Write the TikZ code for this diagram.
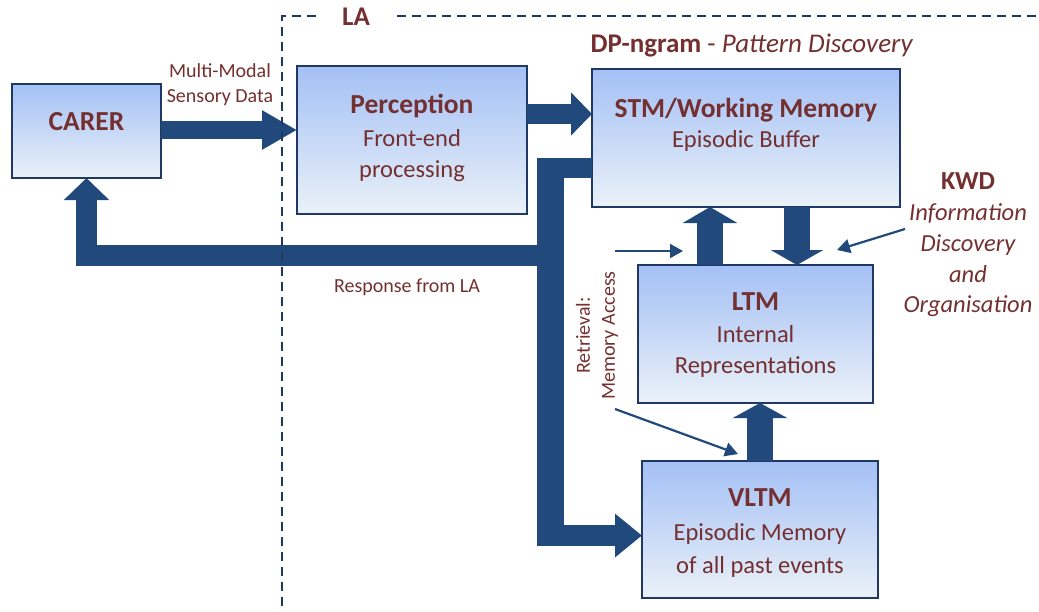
\documentclass[tikz,border=0pt]{standalone}
\usepackage{fontspec}
\setmainfont{Carlito}
\usetikzlibrary{arrows.meta,calc}

\definecolor{flow}{RGB}{33,73,124}
\definecolor{edge}{RGB}{31,56,100}
\definecolor{ink}{RGB}{116,48,48}
\definecolor{shadetop}{RGB}{164,192,245}
\definecolor{shadebot}{RGB}{234,241,248}

\newcommand{\hdfont}{\fontsize{27.5}{32}\selectfont\bfseries}
\newcommand{\bdfont}{\fontsize{24.5}{32}\selectfont}
\newcommand{\lbfont}{\fontsize{20}{25}\selectfont}

\begin{document}
\begin{tikzpicture}[x=1pt,y=-1pt,
  box/.style={draw=edge, line width=2.5pt, top color=shadetop,
    bottom color=shadebot, inner sep=0pt, outer sep=0pt},
  head/.style={text=ink, font=\hdfont, anchor=base, inner sep=0pt},
  body/.style={text=ink, font=\bdfont, anchor=base, inner sep=0pt},
  note/.style={text=ink, font=\lbfont, inner sep=0pt},
  fat/.style={draw=flow, line width=#1},
  thin/.style={draw=flow, line width=2.2pt,
    -{Triangle[length=13pt,width=14pt]}},
  frame/.style={draw=edge, line width=2pt, dash pattern=on 9pt off 6pt}]

\useasboundingbox (0,0) rectangle (1039,611);

% ---- blocks ----
\node[box, minimum width=149pt, minimum height=94pt]  (carer) at (86.5,131) {};
\node[box, minimum width=230pt, minimum height=148pt] (perc)  at (412,140) {};
\node[box, minimum width=308pt, minimum height=138pt] (stm)   at (746,138) {};
\node[box, minimum width=235pt, minimum height=138pt] (ltm)   at (755.5,334) {};
\node[box, minimum width=236pt, minimum height=137pt] (vltm)  at (760,529.5) {};

% ---- block texts ----
\node[head] (carer-h) at (86.5,130) {CARER};
\node[head] (perc-h)  at (412,113) {Perception};
\node[body] (perc-a)  at (412,146) {Front-end};
\node[body] (perc-b)  at (412,177) {processing};
\node[head] (stm-h)   at (746,117) {STM/Working Memory};
\node[body] (stm-a)   at (746,147) {Episodic Buffer};
\node[head] (ltm-h)   at (755.5,310) {LTM};
\node[body] (ltm-a)   at (755.5,342) {Internal};
\node[body] (ltm-b)   at (755.5,373) {Representations};
\node[head] (vltm-h)  at (760,506) {VLTM};
\node[body] (vltm-a)  at (760,540) {Episodic Memory};
\node[body] (vltm-b)  at (760,573) {of all past events};

% ---- free labels ----
\node[note, align=center] (sense) at (220,85) {Multi-Modal\\Sensory Data};
\node[note, anchor=base] (resp) at (407,292.5) {Response from LA};
\node[note, align=center, rotate=90] (retr) at (597,335.5) {Retrieval:\\Memory Access};
\node[text=ink, font=\fontsize{27}{32}\selectfont, anchor=base, inner sep=0pt]
  (dp) at (752,52) {\textbf{DP-ngram} - \textit{Pattern Discovery}};
\node[text=ink, font=\fontsize{26}{32}\selectfont\bfseries, anchor=base, inner sep=0pt]
  (kwd) at (968,189) {KWD};
\node[text=ink, font=\bdfont\itshape, anchor=base, inner sep=0pt] (kwd-a) at (968,220) {Information};
\node[text=ink, font=\bdfont\itshape, anchor=base, inner sep=0pt] (kwd-b) at (968,251) {Discovery};
\node[text=ink, font=\bdfont\itshape, anchor=base, inner sep=0pt] (kwd-c) at (968,282) {and};
\node[text=ink, font=\bdfont\itshape, anchor=base, inner sep=0pt] (kwd-d) at (968,312) {Organisation};
\node[text=ink, font=\fontsize{27}{32}\selectfont\bfseries, inner sep=0pt] (la) at (356,17) {LA};

% ---- routing points ----
\coordinate (upx)   at (710,0);
\coordinate (dnx)   at (797,0);
\coordinate (vupx)  at (760,0);
\coordinate (sense-s) at (161,130);
\coordinate (perc-s)  at (527,114);
\coordinate (stm-s)   at (592,168);
\coordinate (bend-a)  at (537,168);
\coordinate (trunk-t) at (550.5,158);
\coordinate (trunk-b) at (550.5,546);
\coordinate (bend-b)  at (537,535.5);
\coordinate (split)   at (550.5,255.5);

% ---- thick flow arrows ----
\draw[fat=18pt, -{Triangle[length=35pt,width=37pt]}]
  (sense-s) -- (sense-s -| perc.west);
\draw[fat=20pt, -{Triangle[length=21pt,width=42pt]}]
  (perc-s) -- (perc-s -| stm.west);

% feedback trunk from the working memory down to the episodic store
\draw[fat=20pt] (stm-s) -- (bend-a);
\draw[fat=27pt] (trunk-t) -- (trunk-b);
\draw[fat=21pt, -{Triangle[length=27pt,width=42pt]}]
  (bend-b) -- (bend-b -| vltm.west);
% response back to the carer
\draw[fat=21pt, line join=miter, -{Triangle[length=22pt,width=44pt]}]
  (split) -| (carer.south);

% exchanges between the memory stores
\draw[fat=26pt, -{Triangle[length=16pt,width=54pt]}] (ltm.north -| upx) -- (stm.south -| upx);
\draw[fat=26pt, -{Triangle[length=15pt,width=52pt]}] (stm.south -| dnx) -- (ltm.north -| dnx);
\draw[fat=26pt, -{Triangle[length=15pt,width=54pt]}] (vltm.north -| vupx) -- (ltm.south -| vupx);

% ---- thin pointers ----
\coordinate (p1s) at (615,251);
\coordinate (p1e) at (683,251);
\coordinate (p2s) at (905,229);
\coordinate (p2e) at (837,250);
\coordinate (p3s) at (615,409);
\coordinate (p3e) at (738,454);
\draw[thin] (p1s) -- (p1e);
\draw[thin] (p2s) -- (p2e);
\draw[thin] (p3s) -- (p3e);

% ---- LA boundary ----
\coordinate (la-r) at (397,16);
\coordinate (la-l) at (316,16);
\coordinate (edge-r) at (1039,16);
\coordinate (corner) at (282,16);
\coordinate (foot) at (282,611);
\draw[frame] (la-r) -- (edge-r);
\draw[frame] (la-l) -- (corner) -- (foot);

\end{tikzpicture}
\end{document}
